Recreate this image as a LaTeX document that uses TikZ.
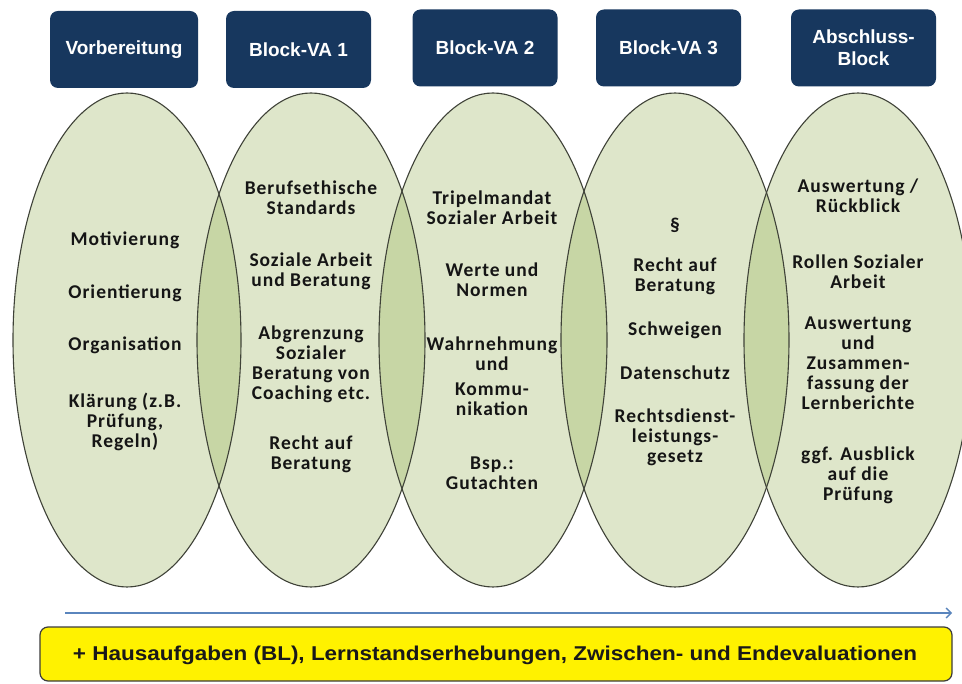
\documentclass[tikz,border=0pt]{standalone}
\usepackage{fontspec}
\usepackage{graphicx}
\setmainfont{Liberation Sans}
\newfontfamily\elfont[LetterSpace=5]{Carlito}
\usetikzlibrary{arrows.meta}
\definecolor{navy}{HTML}{17375E}
\definecolor{elfill}{HTML}{DEE6CA}
\definecolor{lensfill}{HTML}{C7D6A5}
\definecolor{elline}{HTML}{3F4238}
\definecolor{arrowblue}{HTML}{5A85BD}
\definecolor{boxline}{HTML}{3C3C3C}
\definecolor{eltextcol}{HTML}{151515}
\begin{document}
\begin{tikzpicture}[x=1pt,y=-1pt,
  hdr/.style={fill=navy, rounded corners=8pt, text=white,
    font=\bfseries\fontsize{19}{22}\selectfont, align=center, inner sep=0pt,
    minimum width=145pt, minimum height=77pt},
  eltext/.style={font=\elfont\bfseries\fontsize{19.5}{20}\selectfont,
    align=center, text=eltextcol, inner sep=0pt},
  ell/.style={x radius=114pt, y radius=247pt},
  bottombox/.style={draw=boxline, fill=yellow, rounded corners=8pt, line width=1.2pt,
    minimum width=912pt, minimum height=54pt, inner sep=0pt},
  bottomtext/.style={font=\bfseries\fontsize{20}{23}\selectfont, inner sep=0pt, text=black!90}
]
\useasboundingbox (0,0) rectangle (962,684);
\clip (0,0) rectangle (962,684);
\fill[white] (0,0) rectangle (962,684);

% headers
\node[hdr, minimum width=148pt] (h1) at (124,49.5) {Vorbereitung};
\node[hdr] (h2) at (298.5,49.5) {Block-VA 1};
\node[hdr] (h3) at (485,48) {Block-VA 2};
\node[hdr] (h4) at (668.5,48) {Block-VA 3};
\node[hdr] (h5) at (863.5,48) {Abschluss-\\Block};

% ellipses
\foreach \cx in {127,311,493,675,858}
  \fill[elfill] (\cx,340) ellipse [ell];
\foreach \a/\b in {127/311,311/493,493/675,675/858}{
  \begin{scope}
    \clip (\a,340) ellipse [ell];
    \fill[lensfill] (\b,340) ellipse [ell];
  \end{scope}
}
\foreach \cx in {127,311,493,675,858}
  \draw[elline, line width=1.1pt] (\cx,340) ellipse [ell];

% ellipse 1
\node[eltext] (a1) at (125,240) {Motivierung};
\node[eltext] (a2) at (125,293) {Orientierung};
\node[eltext] (a3) at (125,345) {Organisation};
\node[eltext] (a4) at (125,422) {Klärung (z.B.\\Prüfung,\\Regeln)};
% ellipse 2
\node[eltext] (b1) at (311,198) {Berufsethische\\Standards};
\node[eltext] (b2) at (311,271) {Soziale Arbeit\\und Beratung};
\node[eltext] (b3) at (311,364) {Abgrenzung\\Sozialer\\Beratung von\\Coaching etc.};
\node[eltext] (b4) at (311,454) {Recht auf\\Beratung};
% ellipse 3
\node[eltext] (c1) at (492,208) {Tripelmandat\\Sozialer Arbeit};
\node[eltext] (c2) at (492,280) {Werte und\\Normen};
\node[eltext] (c3) at (492,354) {Wahrnehmung\\und};
\node[eltext] (c4) at (492,399) {Kommu-\\nikation};
\node[eltext] (c5) at (492,473) {Bsp.:\\Gutachten};
% ellipse 4
\node[eltext] (d1) at (675,225) {§};
\node[eltext] (d2) at (675,276) {Recht auf\\Beratung};
\node[eltext] (d3) at (675,330) {Schweigen};
\node[eltext] (d4) at (675,373) {Datenschutz};
\node[eltext] (d5) at (675,437) {Rechtsdienst-\\leistungs-\\gesetz};
% ellipse 5
\node[eltext] (f1) at (858,196) {Auswertung /\\Rückblick};
\node[eltext] (f2) at (858,272) {Rollen Sozialer\\Arbeit};
\node[eltext] (f3) at (858,363) {Auswertung\\und\\Zusammen-\\fassung der\\Lernberichte};
\node[eltext] (f4) at (858,475) {ggf. Ausblick\\auf die\\Prüfung};

% arrow
\coordinate (as) at (65,613);
\coordinate (ae) at (952,613);
\draw[arrowblue, line width=1.3pt, -{Straight Barb[length=5pt,width=10pt]}] (as) -- (ae);

% bottom box
\node[bottombox] (bot) at (496,654) {};
\node[bottomtext] (bottxt) at (495,655) {\resizebox{844pt}{\height}{+ Hausaufgaben (BL), Lernstandserhebungen, Zwischen- und Endevaluationen}};
\end{tikzpicture}
\end{document}
